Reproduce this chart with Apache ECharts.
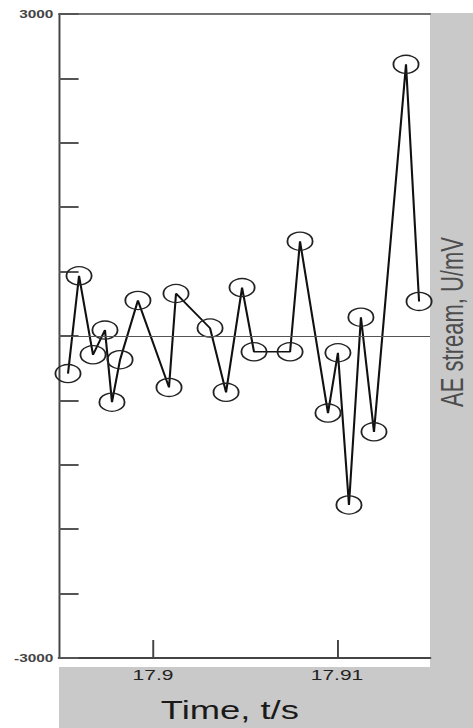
<!DOCTYPE html>
<html>
<head>
<meta charset="utf-8">
<script src="https://cdn.jsdelivr.net/npm/echarts@6/dist/echarts.min.js"></script>
<style>
  html, body { margin: 0; padding: 0; background: #ffffff; overflow: hidden; }
  /* the figure is laid out narrow and widened horizontally as a whole */
  #main { width: 338px; height: 728px; transform: scaleX(1.39941); transform-origin: 0 0; }
</style>
</head>
<body>
<div id="main"></div>
<script>
// AE signal samples: time (s) and amplitude (mV)
const times = [
  17.89538, 17.89598, 17.89674, 17.89739, 17.89777, 17.89821, 17.89918,
  17.90087, 17.90125, 17.90310, 17.90397, 17.90484, 17.90549, 17.90745,
  17.90799, 17.90951, 17.91005, 17.91065, 17.91130, 17.91201, 17.91375,
  17.91446
];
const amplitudes = [
  -350, 561, -175, 55, -617, -221, 331,
  -479, 396, 74, -525, 451, -147, -147,
  883, -718, -156, -1574, 175, -893, 2531,
  322
];

// axis extents and tick values
const xRange = [17.894891, 17.915054];
const xTicks = [17.9, 17.91];
const yRange = [-3000, 3000];
const yTicks = [-3000, -2400, -1800, -1200, -600, 0, 600, 1200, 1800, 2400, 3000];
const yLabels = [-3000, 3000];

const xAxisTitle = 'Time, t/s';
const yAxisTitle = 'AE stream, U/mV';

const points = times.map((t, i) => [t, amplitudes[i]]);

const FONT = 'Liberation Sans, Arial, sans-serif';
const GREY = '#c9c9c9';

const chart = echarts.init(document.getElementById('main'), null, { renderer: 'svg' });

chart.setOption({
  backgroundColor: '#ffffff',
  animation: false,
  grid: { left: 42.16, right: 30.73, top: 14, bottom: 62, containLabel: false },
  graphic: [
    { type: 'rect', z: -1, silent: true,
      shape: { x: 307.27, y: 13, width: 31, height: 715 }, style: { fill: GREY } },
    { type: 'rect', z: -1, silent: true,
      shape: { x: 42.16, y: 667, width: 296, height: 61 }, style: { fill: GREY } },
    { type: 'text', x: 323.2, y: 322, rotation: Math.PI / 2, silent: true,
      style: { text: yAxisTitle, fontSize: 22, fontFamily: FONT, fill: '#4d4d4d',
               align: 'center', verticalAlign: 'middle',
               textAlign: 'center', textVerticalAlign: 'middle' } }
  ],
  xAxis: [
    {
      type: 'value', position: 'bottom', min: xRange[0], max: xRange[1],
      axisLine: { show: true, onZero: false, lineStyle: { color: '#444', width: 2 } },
      axisTick: { show: true, inside: true, length: 18, customValues: xTicks,
                  lineStyle: { color: '#444', width: 1.4 } },
      axisLabel: { customValues: xTicks, margin: 9, fontSize: 15, color: '#222', fontFamily: FONT,
                   formatter: v => String(v) },
      splitLine: { show: false },
      name: xAxisTitle, nameLocation: 'middle', nameGap: 39,
      nameTextStyle: { fontSize: 26, color: '#1a1a1a', fontFamily: FONT, padding: [0, 21, 0, 0] }
    },
    {
      type: 'value', position: 'top', min: xRange[0], max: xRange[1],
      axisLine: { show: true, onZero: false, lineStyle: { color: '#444', width: 1.5 } },
      axisTick: { show: false }, axisLabel: { show: false }, splitLine: { show: false }
    }
  ],
  yAxis: {
    type: 'value', min: yRange[0], max: yRange[1], interval: 600,
    axisLine: { show: true, onZero: false, lineStyle: { color: '#444', width: 1.4 } },
    axisTick: { show: true, inside: true, length: 14, customValues: yTicks,
                lineStyle: { color: '#555', width: 2 } },
    axisLabel: { customValues: yLabels, margin: 4, fontSize: 11, fontWeight: 'bold',
                 color: '#444', fontFamily: FONT, formatter: v => String(v) },
    splitLine: { show: false }
  },
  series: [{
    type: 'line',
    data: points,
    xAxisIndex: 0,
    symbol: 'circle',
    symbolSize: 18,
    showAllSymbol: true,
    itemStyle: { color: 'rgba(0,0,0,0)', borderColor: '#222', borderWidth: 1.3 },
    lineStyle: { color: '#111', width: 1.5 },
    emphasis: { disabled: true },
    markLine: {
      silent: true, symbol: 'none', label: { show: false },
      lineStyle: { color: '#555', width: 1, type: 'solid' },
      data: [{ yAxis: 0 }]
    }
  }]
});
</script>
</body>
</html>
